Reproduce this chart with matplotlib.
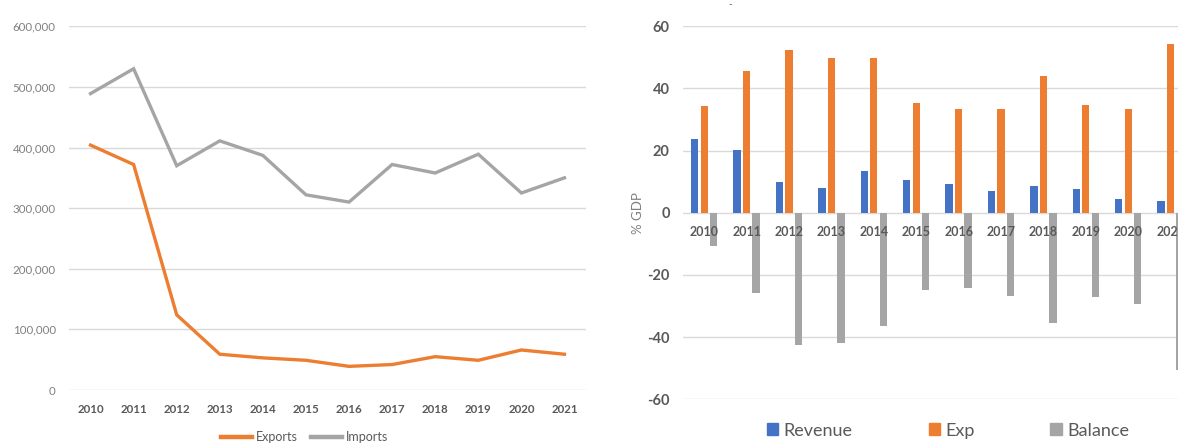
import matplotlib
matplotlib.use("Agg")
import matplotlib.pyplot as plt
from matplotlib.patches import Patch
from matplotlib.lines import Line2D
from matplotlib.ticker import FuncFormatter

plt.rcParams['font.family'] = ['Lato', 'DejaVu Sans']
plt.rcParams['axes.unicode_minus'] = False

# Trade values (left panel)
years = ['2010', '2011', '2012', '2013', '2014', '2015',
         '2016', '2017', '2018', '2019', '2020', '2021']
exports = [404000, 372000, 124000, 59000, 53000, 49000,
           39000, 42000, 55000, 49000, 66000, 59000]
imports = [489000, 530000, 370000, 411000, 387000, 322000,
           310000, 372000, 358000, 389000, 325000, 350000]

# Fiscal values, % of GDP (right panel)
revenue = [23.9, 20.1, 9.9, 8.0, 13.5, 10.6, 9.2, 7.0, 8.7, 7.7, 4.3, 3.9]
expenditure = [34.5, 45.7, 52.4, 49.7, 49.9, 35.2, 33.3, 33.3, 44.0, 34.8, 33.5, 54.3]
balance = [-10.8, -25.8, -42.4, -41.8, -36.3, -24.8, -24.2, -26.7, -35.6, -27.2, -29.2, -50.6]

ORANGE = '#ED7D31'
GRAY = '#A5A5A5'
BLUE = '#4472C4'
GRID = '#D9D9D9'
DARK = '#595959'
MID = '#7F7F7F'

W, H = 1178, 444
fig = plt.figure(figsize=(W / 100, H / 100), dpi=100)


def px_axes(x0, y_top, x1, y_bottom):
    return fig.add_axes([x0 / W, 1 - y_bottom / H, (x1 - x0) / W, (y_bottom - y_top) / H])


# ---------------- left: exports / imports ----------------
ax1 = px_axes(69, 26.3, 586, 390)
x = list(range(len(years)))
ax1.plot(x, exports, color=ORANGE, lw=2.4, solid_joinstyle='miter', label='Exports', zorder=3)
ax1.plot(x, imports, color=GRAY, lw=2.4, solid_joinstyle='miter', label='Imports', zorder=3)
ax1.set_xlim(-0.5, len(years) - 0.5)
ax1.set_ylim(0, 600000)
ax1.set_yticks(range(0, 600001, 100000))
ax1.yaxis.set_major_formatter(FuncFormatter(lambda v, p: f'{int(v):,}'))
ax1.set_xticks(x)
ax1.set_xticklabels(years, fontsize=8.3, fontweight='bold', color=DARK)
ax1.tick_params(axis='y', length=0, pad=9.5, labelsize=8.3, labelcolor=MID)
ax1.tick_params(axis='x', length=0, pad=10)
ax1.grid(axis='y', color=GRID, lw=1.0)
ax1.set_axisbelow(True)
for s in ax1.spines.values():
    s.set_visible(False)

leg1 = ax1.legend(
    handles=[Line2D([], [], color=ORANGE, lw=3.2), Line2D([], [], color=GRAY, lw=3.2)],
    labels=['Exports', 'Imports'], ncol=2, loc='center', frameon=False,
    bbox_to_anchor=(304.5 / W, 1 - 437 / H), bbox_transform=fig.transFigure,
    fontsize=9, handlelength=2.5, handletextpad=0.3, columnspacing=1.0,
    borderpad=0, borderaxespad=0)
for t in leg1.get_texts():
    t.set_color(DARK)

# ---------------- right: revenue / expenditure / balance ----------------
cat_w = 42.4
ax2 = px_axes(683, 26.3, 683 + cat_w * len(years), 399.3)
bw = 0.172
step = 0.224
ax2.bar([i - step for i in x], revenue, width=bw, color=BLUE, zorder=3)
ax2.bar(x, expenditure, width=bw, color=ORANGE, zorder=3)
ax2.bar([i + step for i in x], balance, width=bw, color=GRAY, zorder=3)
ax2.set_xlim(-0.5, len(years) - 0.5)
ax2.set_ylim(-60, 60)
ax2.set_yticks(range(-60, 61, 20))
ax2.set_xticks([])
ax2.tick_params(axis='y', length=0, pad=9.5, labelsize=10.5, labelcolor=DARK)
for lab in ax2.get_yticklabels():
    lab.set_fontweight('bold')
ax2.grid(axis='y', color=GRID, lw=1.0)
ax2.set_axisbelow(True)
for s in ax2.spines.values():
    s.set_visible(False)

for i, yr in enumerate(years):
    ax2.annotate(yr, xy=(i, 0), xytext=(0, -13.7), textcoords='offset points',
                 ha='center', va='center', fontsize=9, fontweight='bold',
                 color=DARK, zorder=4, annotation_clip=False)

ax2.text((638 - 683) / (cat_w * len(years)), 0.5, '% GDP', transform=ax2.transAxes,
         rotation=90, ha='center', va='center', fontsize=9.5, color=MID)

leg2 = ax2.legend(
    handles=[Patch(color=BLUE), Patch(color=ORANGE), Patch(color=GRAY)],
    labels=['Revenue', 'Exp', 'Balance'], ncol=3, loc='center', frameon=False,
    bbox_to_anchor=(948 / W, 1 - 430.5 / H), bbox_transform=fig.transFigure,
    fontsize=13, handlelength=0.62, handleheight=0.62, handletextpad=0.3,
    columnspacing=4.2, borderpad=0, borderaxespad=0)
for t in leg2.get_texts():
    t.set_color(DARK)

fig.text(730 / W, 1 - 5 / H, '-', ha='center', va='center', fontsize=7, color=DARK)

fig.savefig('out.png', dpi=100)
